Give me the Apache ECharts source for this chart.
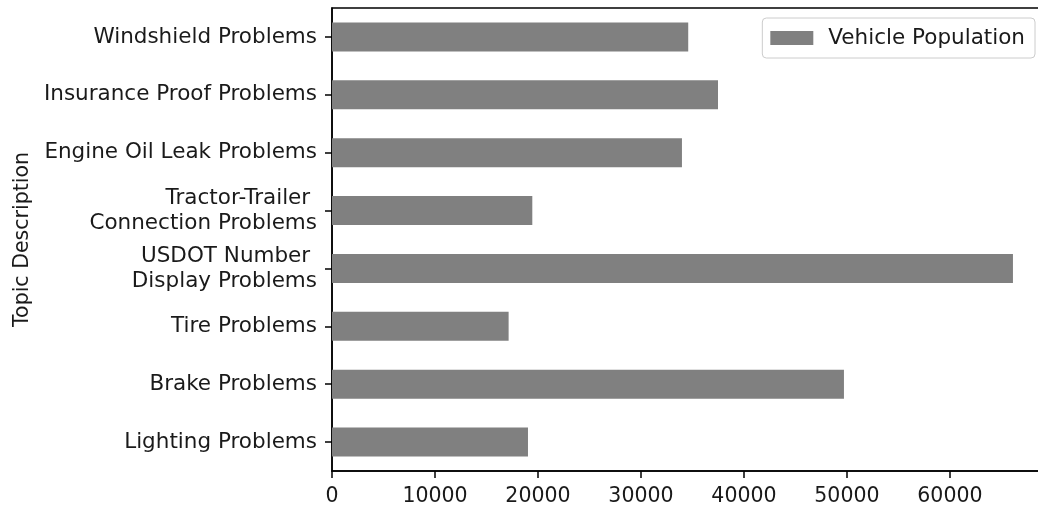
<!DOCTYPE html>
<html>
<head>
<meta charset="utf-8">
<script src="https://cdn.jsdelivr.net/npm/echarts@6/dist/echarts.min.js"></script>
<style>
html,body{margin:0;padding:0;background:#fff;overflow:hidden;}
#chart{width:1038px;height:512px;}
</style>
</head>
<body>
<div id="chart"></div>
<script>
// Categories listed bottom-to-top (as drawn on the y axis)
const categories = [
  "Lighting Problems",
  "Brake Problems",
  "Tire Problems",
  "USDOT Number \nDisplay Problems",
  "Tractor-Trailer \nConnection Problems",
  "Engine Oil Leak Problems",
  "Insurance Proof Problems",
  "Windshield Problems"
];
const vehiclePopulation = [19030, 49710, 17150, 66120, 19450, 33980, 37480, 34590];
const seriesName = "Vehicle Population";
const xTicks = [0, 10000, 20000, 30000, 40000, 50000, 60000];
const yAxisTitle = "Topic Description";

const xMax = Math.max(...vehiclePopulation) * 1.05;
const font = "DejaVu Sans";
const textColor = "#1a1a1a";

const chart = echarts.init(document.getElementById('chart'), null, {renderer: 'canvas'});
chart.setOption({
  animation: false,
  backgroundColor: '#ffffff',
  textStyle: {fontFamily: font},
  grid: {
    left: 332, width: 715, top: 8, height: 463,
    outerBoundsMode: 'none',
    show: true, borderColor: '#000', borderWidth: 1.5, backgroundColor: 'transparent',
    containLabel: false
  },
  legend: {
    show: true,
    right: 3, top: 18,
    data: [seriesName],
    icon: 'rect',
    itemWidth: 43, itemHeight: 14,
    padding: [9, 10, 9, 8],
    borderColor: '#cccccc', borderWidth: 1, borderRadius: 4,
    backgroundColor: '#ffffff',
    textStyle: {fontFamily: font, fontSize: 21.5, color: textColor, padding: [0, 0, 0, 10]}
  },
  xAxis: {
    type: 'value',
    min: 0, max: xMax, interval: 10000,
    axisLine: {show: true, lineStyle: {color: '#000', width: 1.5}},
    axisTick: {show: true, length: 7, lineStyle: {color: '#000', width: 1.5}},
    splitLine: {show: false},
    axisLabel: {
      show: true, margin: 15, fontFamily: font, fontSize: 20.5, color: textColor,
      formatter: function (v) { return xTicks.indexOf(v) >= 0 ? String(v) : ''; }
    }
  },
  yAxis: {
    type: 'category',
    data: categories,
    axisLine: {show: true, lineStyle: {color: '#000', width: 1.5}},
    axisTick: {show: true, alignWithLabel: true, length: 7, lineStyle: {color: '#000', width: 1.5}},
    splitLine: {show: false},
    axisLabel: {
      show: true, margin: 15, fontFamily: font, fontSize: 21.5, lineHeight: 25,
      color: textColor, align: 'right', padding: [3, 0, 0, 0]
    },
    name: yAxisTitle,
    nameLocation: 'middle',
    nameRotate: 90,
    nameGap: 298,
    nameTextStyle: {fontFamily: font, fontSize: 20.5, color: textColor}
  },
  series: [{
    name: seriesName,
    type: 'bar',
    data: vehiclePopulation,
    barWidth: '50%',
    itemStyle: {color: '#808080'}
  }]
});
</script>
</body>
</html>
